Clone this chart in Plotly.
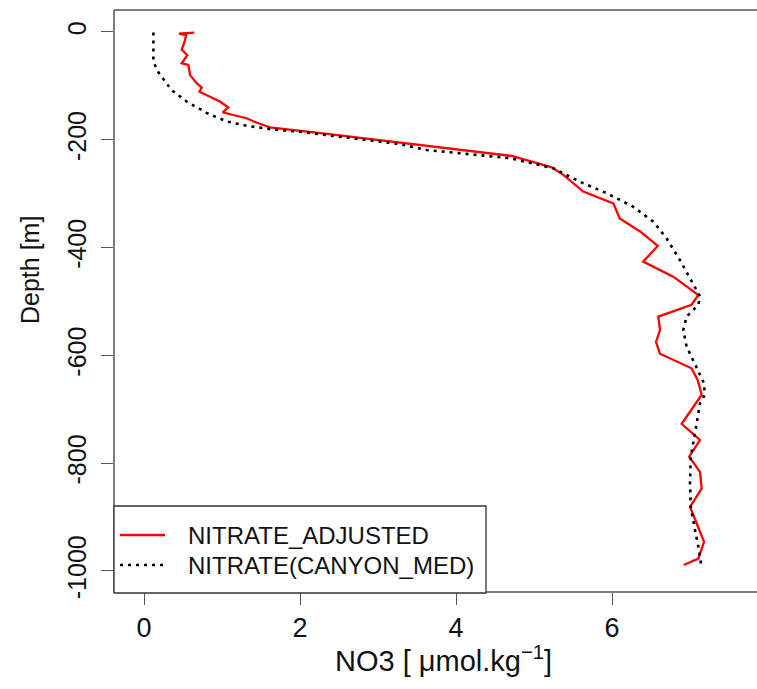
import plotly.graph_objects as go

# ---- data ----
adj_no3 = [0.645, 0.449, 0.538, 0.526, 0.483, 0.555, 0.483, 0.568, 0.59, 0.675, 0.74, 0.71,
           0.846, 0.974, 1.08, 1.01, 1.145, 1.317, 1.44, 1.615, 2.4, 3.4, 4.2, 4.714,
           5.227, 5.376, 5.632, 6.017, 6.10, 6.36, 6.586, 6.40, 6.786, 7.107, 7.02, 6.594,
           6.615, 6.564, 6.615, 7.02, 7.099, 7.15, 6.893, 7.128, 6.99, 7.128, 7.15, 7.0,
           7.086, 7.18, 7.107, 6.92]
adj_depth = [-1, -3, -6, -15, -33, -43, -58, -61, -80, -95, -103, -111,
             -120, -129, -140, -149, -154, -160, -168, -177, -190, -207, -220, -230,
             -251, -265, -296, -318, -346, -370, -397, -426, -454, -488, -506, -528,
             -553, -575, -597, -624, -646, -673, -727, -757, -788, -816, -847, -881,
             -912, -946, -977, -989]

can_no3 = [0.12, 0.12, 0.18, 0.355, 0.547, 0.80, 1.06, 1.317, 1.66, 2.0, 2.43, 2.855,
           3.28, 3.62, 4.69, 5.25, 5.59, 5.93, 6.27, 6.53, 6.70, 6.87, 7.0, 7.13,
           7.107, 6.957, 6.914, 6.957, 7.04, 7.18, 7.19, 7.128, 7.086, 7.05, 7.01, 7.0,
           7.01, 7.064, 7.107, 7.14]
can_depth = [-1, -55, -74, -108, -129, -150, -166, -174, -181, -185, -193, -200,
             -208, -219, -234, -253, -278, -299, -324, -352, -383, -423, -457, -491,
             -506, -528, -553, -584, -609, -652, -673, -689, -726, -757, -788, -837,
             -881, -924, -955, -986]

x_tick_vals = [0, 2, 4, 6]
x_tick_text = ["0", "2", "4", "6"]
y_tick_vals = [0, -200, -400, -600, -800, -1000]
y_tick_text = ["0", "-200", "-400", "-600", "-800", "-1000"]
series_names = ["NITRATE_ADJUSTED", "NITRATE(CANYON_MED)"]

FONT = "Liberation Sans, Arial, Helvetica, sans-serif"
W, H = 757, 689
L, T, B = 114, 10, 97
PW, PH = W - L, H - T - B


def px(x):
    return (x - L) / PW


def py(y):
    return (H - B - y) / PH


fig = go.Figure()
fig.add_trace(go.Scatter(x=adj_no3, y=adj_depth, mode="lines", name=series_names[0],
                         line=dict(color="#ff0000", width=2.3), showlegend=False))
fig.add_trace(go.Scatter(x=can_no3, y=can_depth, mode="lines", name=series_names[1],
                         line=dict(color="#000000", width=2.6, dash="3px,5px"), showlegend=False))

axis_col = "#555555"
fig.update_layout(
    width=W, height=H,
    margin=dict(l=L, r=0, t=T, b=B),
    plot_bgcolor="white", paper_bgcolor="white",
    font=dict(family=FONT, color="#111111"),
    xaxis=dict(range=[-0.385, 7.859], tickvals=x_tick_vals, ticktext=x_tick_text,
               ticks="outside", ticklen=12, tickwidth=1.3, tickcolor=axis_col,
               showgrid=False, zeroline=False, showline=False,
               tickfont=dict(size=27, family=FONT, color="#111111")),
    yaxis=dict(range=[-1039, 40.8], tickvals=y_tick_vals, ticktext=y_tick_text,
               ticks="outside", ticklen=12, tickwidth=1.3, tickcolor=axis_col,
               showgrid=False, zeroline=False, showline=False, tickangle=-90,
               ticklabelstandoff=5,
               tickfont=dict(size=25, family=FONT, color="#111111")),
)

shapes = []
# plot box (right side lies outside the picture)
for (x0, y0, x1, y1) in [(0, 1, 1, 1), (0, 0, 1, 0), (0, 0, 0, 1)]:
    shapes.append(dict(type="line", xref="paper", yref="paper", x0=x0, y0=y0, x1=x1, y1=y1,
                       line=dict(color=axis_col, width=1.5)))
# legend box
shapes.append(dict(type="rect", xref="paper", yref="paper", x0=px(114), x1=px(486),
                   y0=py(593), y1=py(506), fillcolor="white",
                   line=dict(color="#333333", width=1.3)))
shapes.append(dict(type="line", xref="paper", yref="paper", x0=px(120), x1=px(165),
                   y0=py(535), y1=py(535), line=dict(color="#ff0000", width=2.3)))
shapes.append(dict(type="line", xref="paper", yref="paper", x0=px(120), x1=px(165),
                   y0=py(565), y1=py(565), line=dict(color="#000000", width=2.6, dash="3px,5px")))
fig.update_layout(shapes=shapes)

ann = [
    dict(text=series_names[0], x=px(186), y=py(535), xanchor="left", yanchor="middle",
         font=dict(size=24)),
    dict(text=series_names[1], x=px(186), y=py(565), xanchor="left", yanchor="middle",
         font=dict(size=24)),
    dict(text="Depth [m]", x=px(30), y=py(270), textangle=-90, xanchor="center",
         yanchor="middle", font=dict(size=25)),
    dict(text="NO3 [ \u03bcmol.kg<sup>\u22121</sup>]", x=px(443), y=py(659),
         xanchor="center", yanchor="middle", font=dict(size=29)),
]
for a in ann:
    a.update(xref="paper", yref="paper", showarrow=False)
fig.update_layout(annotations=ann)

fig.write_html("out.html", config={"displayModeBar": False},
               post_script="document.body.style.margin='0';document.body.style.overflow='hidden';")
